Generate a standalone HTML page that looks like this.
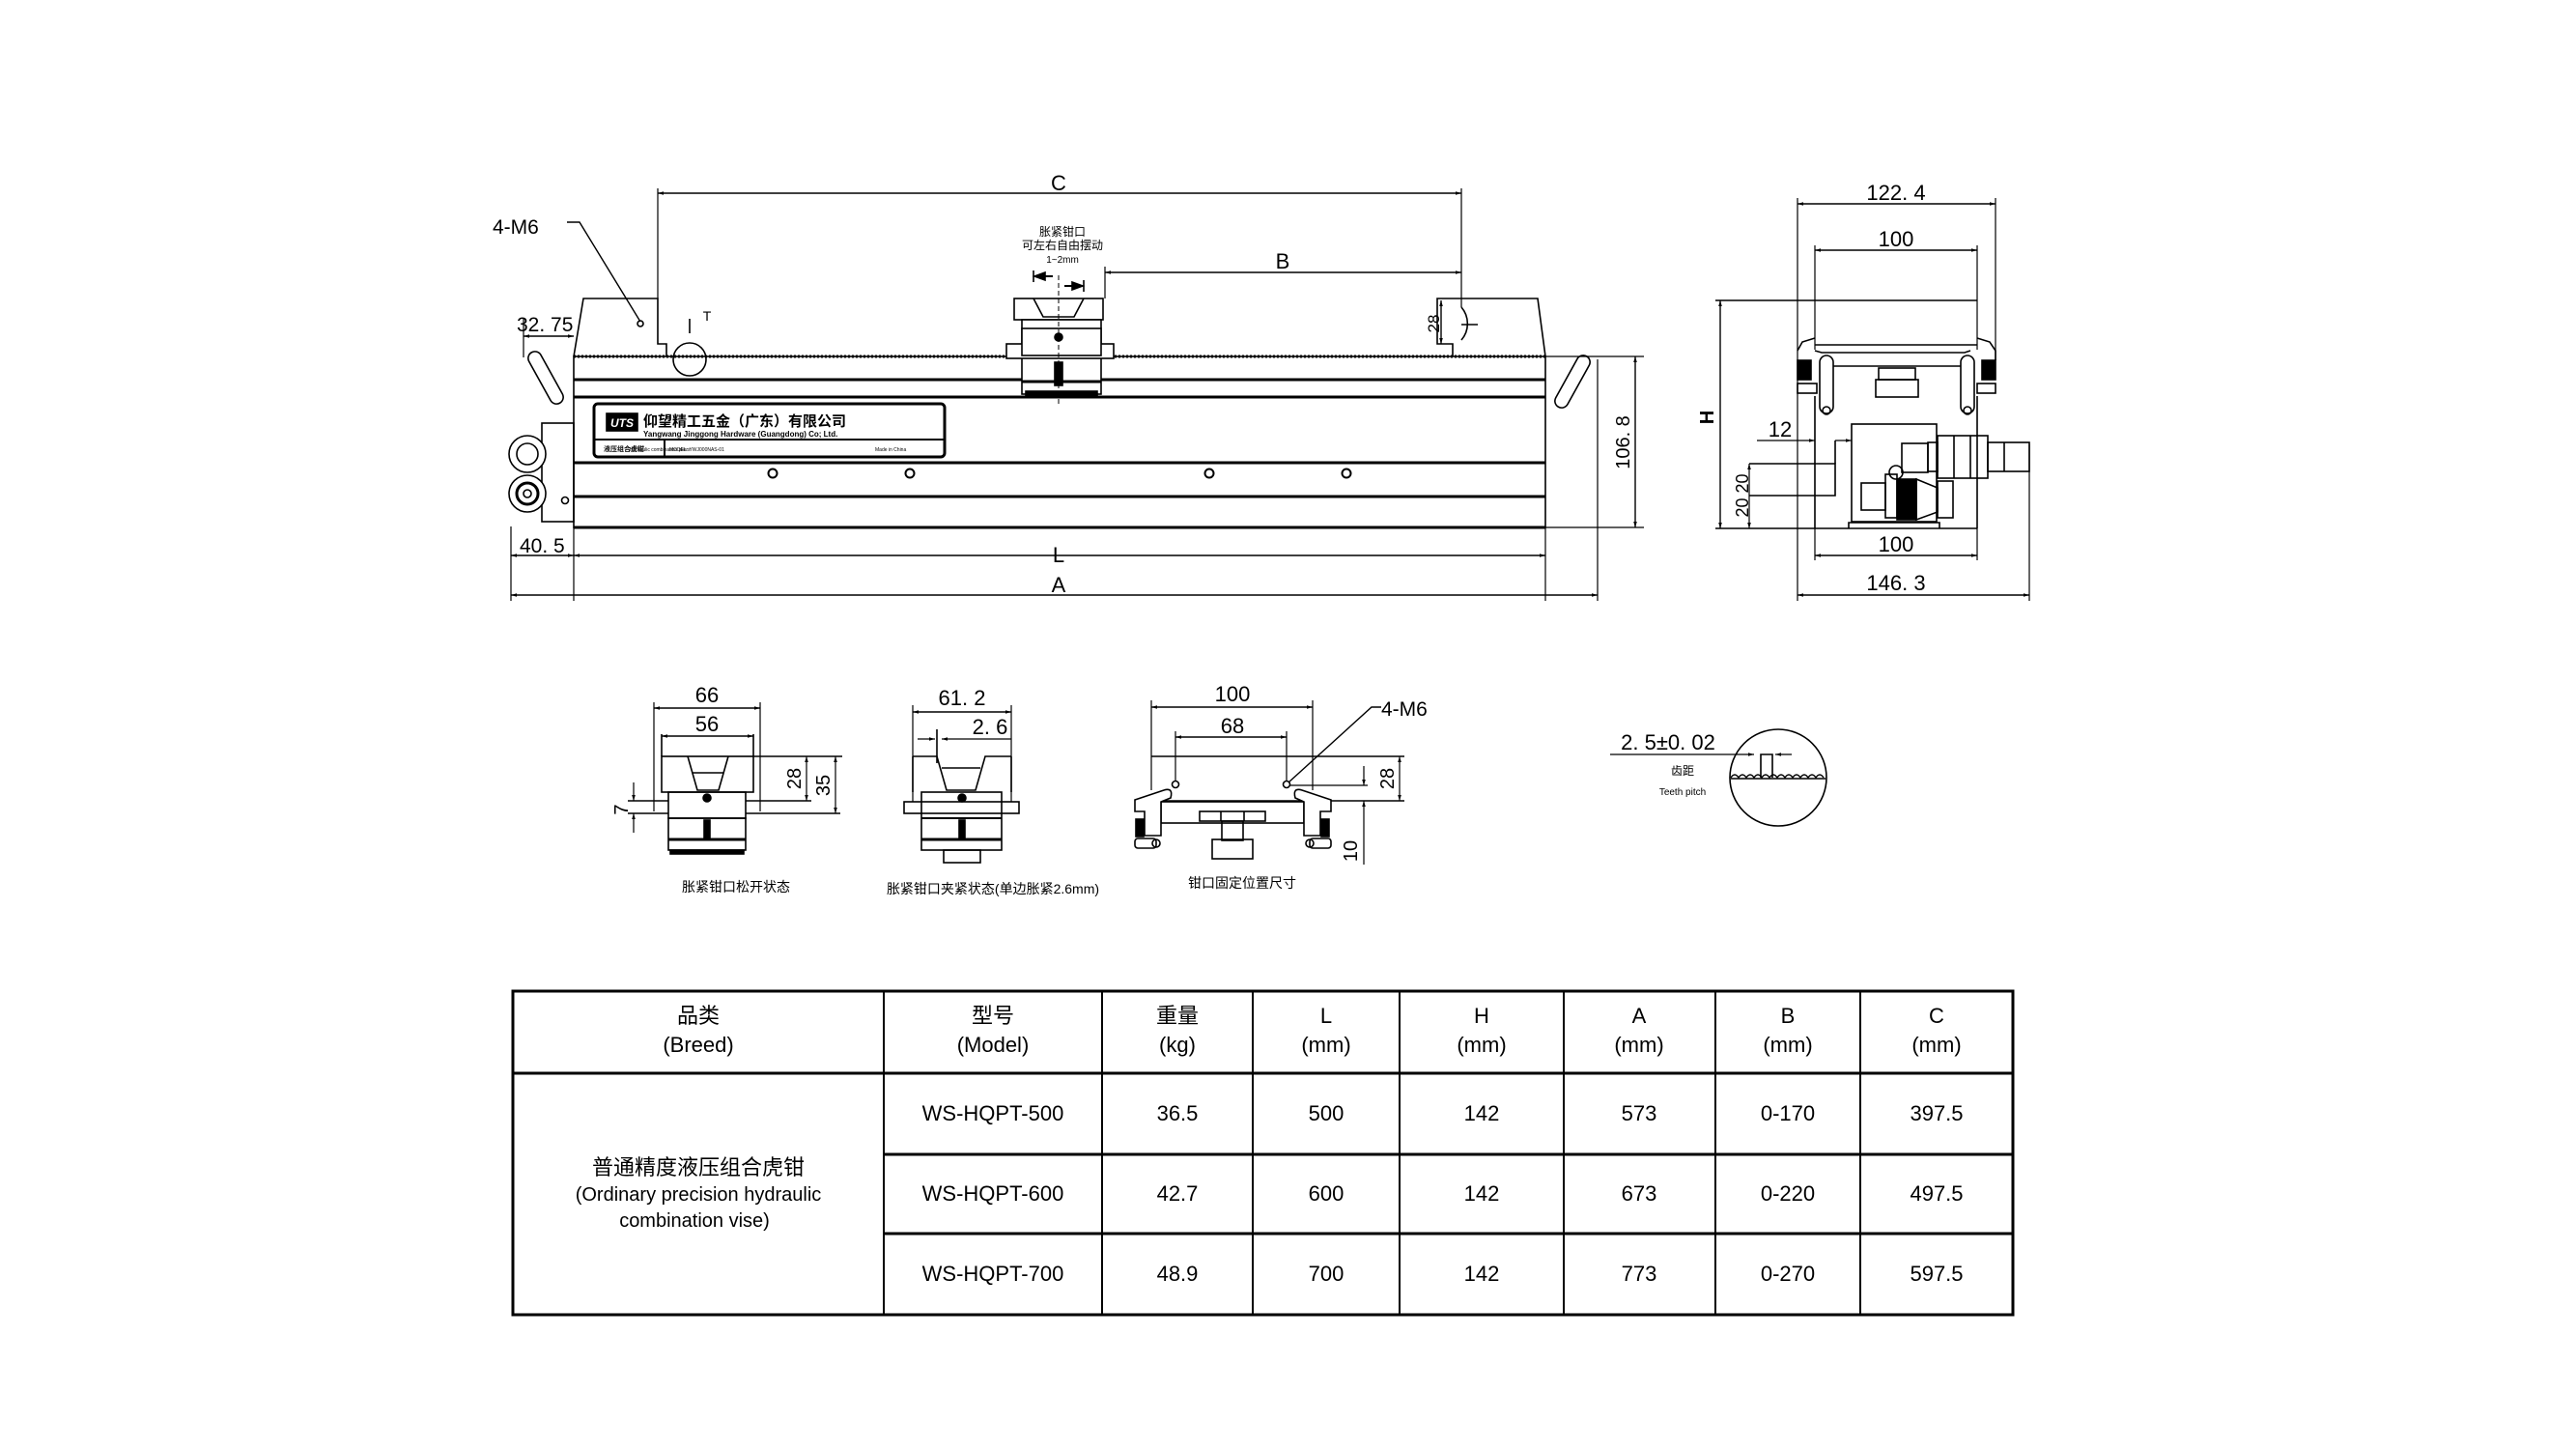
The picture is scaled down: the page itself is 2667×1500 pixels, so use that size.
<!DOCTYPE html>
<html><head><meta charset="utf-8"><style>
html,body{margin:0;padding:0;background:#fff;}
svg{display:block;}
text{font-family:"Liberation Sans","Noto Sans CJK SC",sans-serif;fill:#000;}
</style></head><body>
<svg width="2667" height="1500" viewBox="0 0 2667 1500" xmlns="http://www.w3.org/2000/svg">
<defs>
<marker id="a" viewBox="0 0 10 10" refX="10" refY="5" markerWidth="10" markerHeight="6" orient="auto-start-reverse" markerUnits="userSpaceOnUse"><path d="M0,2 L10,5 L0,8 z" fill="#000"/></marker>
</defs>
<g stroke="#000" fill="none" stroke-width="1.6">
<!-- ===== FRONT VIEW ===== -->
<path d="M594 369 L604 309 L681 309 L681 356 L690 356 L690 369"/>
<path d="M1504 369 L1504 356 L1488 356 L1488 309 L1592 309 L1600 369"/>
<circle cx="714" cy="372" r="17"/>
<line x1="714" y1="330" x2="714" y2="345"/>
<circle cx="663" cy="335" r="3"/>
<path d="M1513 318 A26 26 0 0 1 1513 352"/>
<line x1="1513" y1="336" x2="1530" y2="336"/>
<rect x="594" y="369" width="1006" height="177"/>
<line x1="594" y1="369" x2="1600" y2="369" stroke-width="3" stroke-dasharray="2 2"/>
<line x1="594" y1="393" x2="1600" y2="393" stroke-width="3"/>
<line x1="594" y1="411" x2="1600" y2="411" stroke-width="3"/>
<line x1="594" y1="479" x2="1600" y2="479" stroke-width="3"/>
<line x1="594" y1="514" x2="1600" y2="514" stroke-width="3"/>
<line x1="594" y1="546" x2="1600" y2="546" stroke-width="3"/>
<circle cx="800" cy="490" r="4.5" stroke-width="2"/><circle cx="942" cy="490" r="4.5" stroke-width="2"/>
<circle cx="1252" cy="490" r="4.5" stroke-width="2"/><circle cx="1394" cy="490" r="4.5" stroke-width="2"/>
<rect x="1050" y="309" width="92" height="22"/>
<path d="M1070 309 L1080 328 L1112 328 L1122 309"/>
<rect x="1058" y="331" width="82" height="77" fill="#fff"/>
<rect x="1042" y="356" width="111" height="15" fill="#fff"/>
<rect x="1058" y="340" width="82" height="28" fill="#fff"/>
<circle cx="1096" cy="349" r="4" fill="#000"/>
<rect x="1092" y="375" width="8" height="24" fill="#000"/>
<line x1="1058" y1="395" x2="1140" y2="395" stroke-width="3"/>
<rect x="1062" y="405" width="74" height="6" fill="#000"/>
<g transform="translate(565 391) rotate(61)"><rect x="-30" y="-7" width="60" height="14" rx="7" fill="#fff"/></g>
<g transform="translate(1628 395) rotate(-61)"><rect x="-30" y="-7" width="60" height="14" rx="7" fill="#fff"/></g>
<rect x="561" y="438" width="33" height="102"/>
<circle cx="546" cy="470" r="19" fill="#fff"/><circle cx="546" cy="470" r="11"/>
<circle cx="546" cy="511" r="19" fill="#fff"/><circle cx="546" cy="511" r="11" stroke-width="3"/><circle cx="546" cy="511" r="4"/>
<circle cx="585" cy="518" r="3.5"/>
<rect x="615" y="418" width="363" height="55" rx="4" stroke-width="3"/>
<line x1="615" y1="455" x2="978" y2="455" stroke-width="2"/>
<line x1="688" y1="455" x2="688" y2="473" stroke-width="2"/>
<rect x="628" y="428" width="32" height="18" fill="#000"/>
<line x1="681" y1="195" x2="681" y2="309" stroke-width="1.2"/>
<line x1="1513" y1="195" x2="1513" y2="318" stroke-width="1.2"/>
<line x1="681" y1="200" x2="1513" y2="200" stroke-width="1.4" marker-start="url(#a)" marker-end="url(#a)"/>
<line x1="1144" y1="276" x2="1144" y2="309" stroke-width="1.2"/>
<line x1="1144" y1="282" x2="1513" y2="282" stroke-width="1.4" marker-start="url(#a)" marker-end="url(#a)"/>
<line x1="1096" y1="285" x2="1096" y2="420" stroke-width="1" stroke-dasharray="5 3"/>
<line x1="1070" y1="280" x2="1070" y2="292"/><line x1="1122" y1="290" x2="1122" y2="302"/>
<line x1="1072" y1="286" x2="1090" y2="286" stroke-width="2"/>
<path d="M1071 286 L1082 282 L1082 290 z" fill="#000"/>
<line x1="1102" y1="296" x2="1120" y2="296" stroke-width="2"/>
<path d="M1121 296 L1110 292 L1110 300 z" fill="#000"/>
<path d="M587 230 L600 230 L663 333" stroke-width="1.4"/>
<line x1="542" y1="348" x2="594" y2="348" stroke-width="1.4" marker-start="url(#a)" marker-end="url(#a)"/>
<line x1="542" y1="330" x2="542" y2="370" stroke-width="1.2"/>
<line x1="1492" y1="311" x2="1492" y2="356" stroke-width="1.4" marker-start="url(#a)" marker-end="url(#a)"/>
<line x1="1600" y1="369" x2="1702" y2="369" stroke-width="1.2"/>
<line x1="1600" y1="546" x2="1702" y2="546" stroke-width="1.2"/>
<line x1="1693" y1="369" x2="1693" y2="546" stroke-width="1.4" marker-start="url(#a)" marker-end="url(#a)"/>
<line x1="529" y1="545" x2="529" y2="622" stroke-width="1.2"/>
<line x1="594" y1="546" x2="594" y2="622" stroke-width="1.2"/>
<line x1="1600" y1="546" x2="1600" y2="622" stroke-width="1.2"/>
<line x1="1654" y1="372" x2="1654" y2="622" stroke-width="1.2"/>
<line x1="529" y1="575" x2="594" y2="575" stroke-width="1.4" marker-start="url(#a)" marker-end="url(#a)"/>
<line x1="594" y1="575" x2="1600" y2="575" stroke-width="1.4" marker-start="url(#a)" marker-end="url(#a)"/>
<line x1="529" y1="616" x2="1654" y2="616" stroke-width="1.4" marker-start="url(#a)" marker-end="url(#a)"/>

<!-- ===== SIDE VIEW ===== -->
<line x1="1861" y1="205" x2="1861" y2="622" stroke-width="1.2"/>
<line x1="2066" y1="205" x2="2066" y2="373" stroke-width="1.2"/>
<line x1="1861" y1="211" x2="2066" y2="211" stroke-width="1.4" marker-start="url(#a)" marker-end="url(#a)"/>
<line x1="1879" y1="254" x2="1879" y2="362" stroke-width="1.2"/>
<line x1="2047" y1="254" x2="2047" y2="362" stroke-width="1.2"/>
<line x1="1879" y1="259" x2="2047" y2="259" stroke-width="1.4" marker-start="url(#a)" marker-end="url(#a)"/>
<line x1="1776" y1="311" x2="2047" y2="311" stroke-width="1.4"/>
<line x1="1879" y1="357" x2="2047" y2="357"/>
<path d="M1861 363 L1866 354 L1879 350 M2047 350 L2060 354 L2066 363 L2066 373"/>
<rect x="1861" y="373" width="14" height="20" fill="#000"/><rect x="2052" y="373" width="14" height="20" fill="#000"/>
<rect x="1861" y="397" width="20" height="10"/><rect x="2047" y="397" width="19" height="10"/>
<path d="M1879 363 L1886 365 L2034 365 L2040 363"/>
<line x1="1896" y1="379" x2="2034" y2="379"/>
<rect x="1884" y="368" width="14" height="60" rx="7" fill="#fff"/><rect x="2030" y="368" width="14" height="60" rx="7" fill="#fff"/>
<circle cx="1891" cy="425" r="4"/><circle cx="2037" cy="425" r="4"/>
<rect x="1945" y="381" width="38" height="12"/><rect x="1942" y="393" width="44" height="18"/>
<line x1="1879" y1="410" x2="1879" y2="547"/><line x1="2047" y1="410" x2="2047" y2="547"/>
<rect x="1917" y="439" width="88" height="101"/>
<path d="M1914 547 L1914 541 L2008 541 L2008 547"/>
<line x1="1776" y1="547" x2="2047" y2="547" stroke-width="1.4"/>
<rect x="1969" y="459" width="27" height="30"/><rect x="1996" y="458" width="10" height="30"/>
<rect x="2006" y="451" width="52" height="44"/><line x1="2023" y1="451" x2="2023" y2="495"/><line x1="2040" y1="451" x2="2040" y2="495"/>
<rect x="2058" y="458" width="43" height="30"/><line x1="2075" y1="458" x2="2075" y2="488"/>
<rect x="1927" y="500" width="25" height="28"/><rect x="1952" y="491" width="12" height="45"/>
<rect x="1964" y="496" width="20" height="42" fill="#000"/><path d="M1984 496 L2006 505 L2006 530 L1984 538z"/>
<rect x="2006" y="498" width="16" height="38"/>
<circle cx="1963" cy="489" r="7"/>
<line x1="1781" y1="311" x2="1781" y2="547" stroke-width="1.4" marker-start="url(#a)" marker-end="url(#a)"/>
<line x1="1819" y1="456" x2="1879" y2="456" stroke-width="1.2" marker-end="url(#a)"/>
<line x1="1900" y1="456" x2="1917" y2="456" stroke-width="1.2" marker-end="url(#a)"/>
<path d="M1811 480 L1900 480 L1900 513 L1811 513"/>
<line x1="1900" y1="456" x2="1900" y2="480"/>
<line x1="1811" y1="480" x2="1811" y2="547" stroke-width="1.2" marker-start="url(#a)" marker-end="url(#a)"/>
<line x1="1879" y1="547" x2="1879" y2="580" stroke-width="1.2"/><line x1="2047" y1="547" x2="2047" y2="580" stroke-width="1.2"/>
<line x1="1879" y1="575" x2="2047" y2="575" stroke-width="1.4" marker-start="url(#a)" marker-end="url(#a)"/>
<line x1="2101" y1="460" x2="2101" y2="622" stroke-width="1.2"/>
<line x1="1861" y1="616" x2="2101" y2="616" stroke-width="1.4" marker-start="url(#a)" marker-end="url(#a)"/>

<!-- ===== SMALL VIEW 1 ===== -->
<line x1="677" y1="727" x2="677" y2="840" stroke-width="1.2"/><line x1="787" y1="727" x2="787" y2="840" stroke-width="1.2"/>
<line x1="677" y1="733" x2="787" y2="733" stroke-width="1.4" marker-start="url(#a)" marker-end="url(#a)"/>
<line x1="685" y1="762" x2="780" y2="762" stroke-width="1.4" marker-start="url(#a)" marker-end="url(#a)"/>
<rect x="685" y="783" width="95" height="37"/>
<line x1="685" y1="760" x2="685" y2="783"/><line x1="780" y1="760" x2="780" y2="783"/>
<path d="M712 783 L722 818 L744 818 L754 783"/><line x1="717" y1="800" x2="749" y2="800"/>
<line x1="780" y1="783" x2="872" y2="783"/>
<rect x="692" y="820" width="80" height="27"/><circle cx="732" cy="826" r="4" fill="#000"/>
<rect x="692" y="847" width="80" height="33"/><rect x="729" y="849" width="6" height="20" fill="#000"/>
<line x1="692" y1="869" x2="772" y2="869" stroke-width="3"/><rect x="694" y="880" width="76" height="4" fill="#000"/>
<line x1="772" y1="829" x2="840" y2="829"/><line x1="650" y1="829" x2="692" y2="829"/>
<line x1="772" y1="842" x2="870" y2="842"/><line x1="650" y1="842" x2="692" y2="842"/>
<line x1="835" y1="783" x2="835" y2="829" stroke-width="1.2" marker-start="url(#a)" marker-end="url(#a)"/>
<line x1="865" y1="783" x2="865" y2="842" stroke-width="1.2" marker-start="url(#a)" marker-end="url(#a)"/>
<line x1="656" y1="810" x2="656" y2="829" stroke-width="1.2" marker-end="url(#a)"/>
<line x1="656" y1="862" x2="656" y2="842" stroke-width="1.2" marker-end="url(#a)"/>

<!-- ===== SMALL VIEW 2 ===== -->
<line x1="945" y1="730" x2="945" y2="830" stroke-width="1.2"/><line x1="1047" y1="730" x2="1047" y2="830" stroke-width="1.2"/>
<line x1="945" y1="737" x2="1047" y2="737" stroke-width="1.4" marker-start="url(#a)" marker-end="url(#a)"/>
<line x1="950" y1="765" x2="968" y2="765" stroke-width="1.2" marker-end="url(#a)"/>
<line x1="1047" y1="765" x2="975" y2="765" stroke-width="1.2" marker-end="url(#a)"/>
<line x1="970" y1="755" x2="970" y2="790"/>
<path d="M945 783 L970 783 L980 818 L1010 818 L1020 783 L1047 783"/>
<line x1="945" y1="783" x2="945" y2="820"/><line x1="1047" y1="783" x2="1047" y2="820"/>
<line x1="975" y1="795" x2="1015" y2="795"/>
<rect x="954" y="820" width="83" height="60"/>
<rect x="936" y="830" width="119" height="12"/>
<circle cx="996" cy="826" r="4" fill="#000"/><rect x="993" y="849" width="6" height="20" fill="#000"/>
<line x1="954" y1="847" x2="1037" y2="847" stroke-width="2"/><line x1="954" y1="869" x2="1037" y2="869" stroke-width="3"/>
<rect x="977" y="880" width="38" height="13"/>

<!-- ===== SMALL VIEW 3 ===== -->
<line x1="1192" y1="725" x2="1192" y2="818" stroke-width="1.2"/><line x1="1359" y1="725" x2="1359" y2="818" stroke-width="1.2"/>
<line x1="1192" y1="732" x2="1359" y2="732" stroke-width="1.4" marker-start="url(#a)" marker-end="url(#a)"/>
<line x1="1217" y1="757" x2="1217" y2="808" stroke-width="1.2"/><line x1="1332" y1="757" x2="1332" y2="808" stroke-width="1.2"/>
<line x1="1217" y1="763" x2="1332" y2="763" stroke-width="1.4" marker-start="url(#a)" marker-end="url(#a)"/>
<line x1="1192" y1="783" x2="1454" y2="783" stroke-width="1.6"/>
<circle cx="1217" cy="812" r="3.5"/><circle cx="1332" cy="812" r="3.5"/>
<path d="M1430 732 L1420 732 L1334 810" stroke-width="1.4"/>
<line x1="1336" y1="813" x2="1416" y2="813" stroke-width="1.2"/>
<line x1="1412" y1="793" x2="1412" y2="813" stroke-width="1.2" marker-end="url(#a)"/>
<line x1="1449" y1="783" x2="1449" y2="829" stroke-width="1.2" marker-start="url(#a)" marker-end="url(#a)"/>
<line x1="1202" y1="829" x2="1454" y2="829" stroke-width="1.6"/>
<line x1="1412" y1="829" x2="1412" y2="895" stroke-width="1.2" marker-start="url(#a)"/>
<rect x="1202" y="830" width="148" height="22"/>
<rect x="1242" y="840" width="68" height="10"/><line x1="1264" y1="840" x2="1264" y2="850"/><line x1="1288" y1="840" x2="1288" y2="850"/>
<rect x="1265" y="850" width="22" height="20"/><rect x="1255" y="869" width="42" height="20"/>
<path d="M1175 828 L1205 818 Q1215 815 1212 826 L1202 830 L1202 865 L1185 865 L1185 840 L1175 840z" fill="#fff"/>
<rect x="1176" y="848" width="8" height="18" fill="#000"/>
<rect x="1175" y="868" width="22" height="10" rx="3"/><circle cx="1197" cy="873" r="4"/>
<path d="M1378 828 L1348 818 Q1338 815 1341 826 L1350 830 L1350 865 L1367 865 L1367 840 L1378 840z" fill="#fff"/>
<rect x="1368" y="848" width="8" height="18" fill="#000"/>
<rect x="1356" y="868" width="22" height="10" rx="3"/><circle cx="1356" cy="873" r="4"/>

<!-- ===== DETAIL CIRCLE ===== -->
<circle cx="1841" cy="805" r="50"/>
<line x1="1667" y1="781" x2="1816" y2="781" stroke-width="1.2" marker-end="url(#a)"/>
<line x1="1855" y1="781" x2="1838" y2="781" stroke-width="1.2" marker-end="url(#a)"/>
<path d="M1823 805 L1823 781 L1835 781 L1835 805"/>
<path d="M1792 805 q4 -6 8 0 q4 -6 8 0 q4 -6 8 0 q4 -6 8 0 q4 -6 8 0 q4 -6 8 0 q4 -6 8 0 q4 -6 8 0 q4 -6 8 0 q4 -6 8 0 q4 -6 8 0 q4 -6 8 0" stroke-width="1.4"/>
<line x1="1792" y1="806" x2="1890" y2="806"/>

<!-- ===== TABLE ===== -->
<rect x="531" y="1026" width="1553" height="335" stroke-width="3"/>
<line x1="531" y1="1111" x2="2084" y2="1111" stroke-width="3"/>
<line x1="915" y1="1195" x2="2084" y2="1195" stroke-width="3"/>
<line x1="915" y1="1277" x2="2084" y2="1277" stroke-width="3"/>
<g stroke-width="2">
<line x1="915" y1="1026" x2="915" y2="1361"/><line x1="1141" y1="1026" x2="1141" y2="1361"/>
<line x1="1297" y1="1026" x2="1297" y2="1361"/><line x1="1449" y1="1026" x2="1449" y2="1361"/>
<line x1="1619" y1="1026" x2="1619" y2="1361"/><line x1="1776" y1="1026" x2="1776" y2="1361"/>
<line x1="1926" y1="1026" x2="1926" y2="1361"/>
</g>
</g>

<!-- ===== TEXT ===== -->
<g font-size="22" text-anchor="middle">
<text x="1096" y="197">C</text>
<text x="1328" y="278">B</text>
<text x="1096" y="582">L</text>
<text x="1096" y="613">A</text>
<text x="1963" y="207">122. 4</text>
<text x="1963" y="255">100</text>
<text x="1963" y="571">100</text>
<text x="1963" y="611">146. 3</text>
<text x="1843" y="452">12</text>
<text x="732" y="727">66</text>
<text x="732" y="757">56</text>
<text x="996" y="730">61. 2</text>
<text x="1025" y="760">2. 6</text>
<text x="1276" y="726">100</text>
<text x="1276" y="759">68</text>
<text x="1727" y="776">2. 5±0. 02</text>
</g>
<g font-size="21">
<text x="510" y="242">4-M6</text>
<text x="535" y="343">32. 75</text>
<text x="538" y="572">40. 5</text>
<text x="1430" y="741">4-M6</text>
</g>
<g font-size="20" text-anchor="middle">
<text transform="translate(1687 458) rotate(-90)">106. 8</text>
<text transform="translate(1774 432) rotate(-90)" font-weight="bold">H</text>
<text transform="translate(1810 513) rotate(-90)" font-size="18">20 20</text>
<text transform="translate(1490 335) rotate(-90)" font-size="17">28</text>
<text transform="translate(829 806) rotate(-90)">28</text>
<text transform="translate(859 813) rotate(-90)">35</text>
<text transform="translate(1443 806) rotate(-90)">28</text>
<text transform="translate(1405 881) rotate(-90)">10</text>
<text transform="translate(650 838) rotate(-90)">7</text>
</g>
<g font-size="12" text-anchor="middle">
<text x="1100" y="244">胀紧钳口</text>
<text x="1100" y="258">可左右自由摆动</text>
<text x="1100" y="272" font-size="10">1~2mm</text>
<text x="732" y="332" font-size="14">T</text>
<text x="1742" y="802">齿距</text>
<text x="1742" y="823" font-size="10">Teeth pitch</text>
</g>
<g font-size="14" text-anchor="middle">
<text x="762" y="923">胀紧钳口松开状态</text>
<text x="1028" y="925">胀紧钳口夹紧状态(单边胀紧2.6mm)</text>
<text x="1286" y="919">钳口固定位置尺寸</text>
</g>
<text x="644" y="442" font-size="12" font-weight="bold" font-style="italic" text-anchor="middle" style="fill:#fff">UTS</text>
<text x="666" y="441" font-size="15" font-weight="bold">仰望精工五金（广东）有限公司</text>
<text x="666" y="452" font-size="8" font-weight="bold" font-family="Liberation Serif">Yangwang Jinggong Hardware (Guangdong) Co; Ltd.</text>
<text x="625" y="467" font-size="7" font-weight="bold">液压组合虎钳</text>
<text x="652" y="467" font-size="5">Hydraulic combination pliers</text>
<text x="693" y="467" font-size="5">MODEL: YWJ000NAS-01</text>
<text x="906" y="467" font-size="5">Made in China</text>
<g font-size="22" text-anchor="middle">
<text x="723" y="1059">品类</text><text x="723" y="1089">(Breed)</text>
<text x="1028" y="1059">型号</text><text x="1028" y="1089">(Model)</text>
<text x="1219" y="1059">重量</text><text x="1219" y="1089">(kg)</text>
<text x="1373" y="1059">L</text><text x="1373" y="1089">(mm)</text>
<text x="1534" y="1059">H</text><text x="1534" y="1089">(mm)</text>
<text x="1697" y="1059">A</text><text x="1697" y="1089">(mm)</text>
<text x="1851" y="1059">B</text><text x="1851" y="1089">(mm)</text>
<text x="2005" y="1059">C</text><text x="2005" y="1089">(mm)</text>
<text x="723" y="1216">普通精度液压组合虎钳</text>
<text x="723" y="1243" font-size="20">(Ordinary precision hydraulic</text>
<text x="719" y="1270" font-size="20">combination vise)</text>
<text x="1028" y="1160">WS-HQPT-500</text><text x="1219" y="1160">36.5</text><text x="1373" y="1160">500</text><text x="1534" y="1160">142</text><text x="1697" y="1160">573</text><text x="1851" y="1160">0-170</text><text x="2005" y="1160">397.5</text>
<text x="1028" y="1243">WS-HQPT-600</text><text x="1219" y="1243">42.7</text><text x="1373" y="1243">600</text><text x="1534" y="1243">142</text><text x="1697" y="1243">673</text><text x="1851" y="1243">0-220</text><text x="2005" y="1243">497.5</text>
<text x="1028" y="1326">WS-HQPT-700</text><text x="1219" y="1326">48.9</text><text x="1373" y="1326">700</text><text x="1534" y="1326">142</text><text x="1697" y="1326">773</text><text x="1851" y="1326">0-270</text><text x="2005" y="1326">597.5</text>
</g>
</svg>
</body></html>
